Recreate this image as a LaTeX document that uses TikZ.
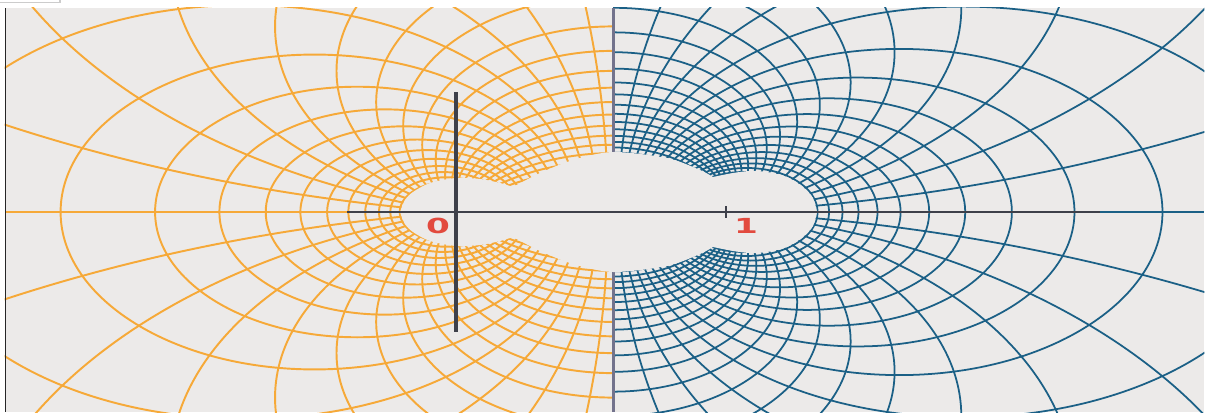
\documentclass[tikz,border=0pt]{standalone}
\usepackage{fontspec}
\newfontfamily\labelfont{DejaVu Sans}
\definecolor{bg}{RGB}{236,234,233}
\definecolor{gold}{RGB}{246,169,56}
\definecolor{sea}{RGB}{27,96,134}
\definecolor{axisgray}{RGB}{62,64,74}
\definecolor{labelred}{RGB}{226,74,62}
\begin{document}
\begin{tikzpicture}[x=0.01cm,y=-0.01cm,
    ogrid/.style={gold,line width=0.55pt},
    bgrid/.style={sea,line width=0.5pt},
    lbl/.style={text=labelred,inner sep=0pt,xscale=1.65,font=\labelfont\bfseries\fontsize{5.9}{6}\selectfont}]
  \useasboundingbox(0,0)rectangle(1206,412);
  \fill[bg](5,8)rectangle(1204,412);
  \draw[black!20,line width=0.3pt](0,2.5)--(60,2.5)--(60,0);
  \begin{scope}[shift={(456,212)},x=2.7cm,y=1.674cm]
    \begin{scope}
      \clip(-1.6704,-1.1947)rectangle(0.5815,1.2186);
      \foreach\j in{0,...,15}{
        \pgfmathsetmacro\k{exp(-0.065-0.13*\j)}
        \pgfmathsetmacro\ctr{-\k*\k*1.163/(1-\k*\k)}
        \pgfmathsetmacro\rad{\k*1.163/(1-\k*\k)}
        \draw[ogrid](\ctr,0)circle[radius=\rad];}
      \foreach\j in{1,...,25}
        \draw[ogrid](0.5815,{0.5815*cot(\j*180/26)})circle[radius={0.5815/sin(\j*180/26)}];
    \end{scope}
    \begin{scope}
      \clip(0.5815,-1.1947)rectangle(2.7704,1.2186);
      \foreach\j in{0,...,15}{
        \pgfmathsetmacro\k{exp(-0.087-0.0827*\j)}
        \pgfmathsetmacro\ctr{1+\k*\k*0.837/(1-\k*\k)}
        \pgfmathsetmacro\rad{\k*0.837/(1-\k*\k)}
        \draw[bgrid](\ctr,0)circle[radius=\rad];}
      \foreach\j in{1,...,37}
        \draw[bgrid](0.5815,{0.4185*cot(\j*180/38)})circle[radius={0.4185/sin(\j*180/38)}];
    \end{scope}
  \end{scope}
  \draw[gray!90!blue,line width=0.85pt](613,8)--(613,412);
  \fill[bg]plot[smooth]coordinates{(400,212)(405,200)(413,192)(430,183)(456,178)(480,179)(500,183)(513,187)}
    --plot[smooth]coordinates{(513,187)(540,173)(573,160)(613,152)(667,158)(700,170)(713,177)}
    --plot[smooth]coordinates{(713,177)(733,173)(750,171)(767,172)(787,177)(803,187)(813,198)(817,212)}
    --plot[smooth]coordinates{(817,212)(813,226)(803,237)(787,247)(767,252)(750,253)(733,251)(713,247)}
    --plot[smooth]coordinates{(713,247)(700,254)(667,266)(613,272)(573,264)(540,251)(513,237)}
    --plot[smooth]coordinates{(513,237)(500,241)(480,245)(456,246)(430,241)(413,232)(405,224)(400,212)}--cycle;
  \coordinate(west)at(5,212);
  \coordinate(east)at(1204,212);
  \coordinate(axl)at(347,212);
  \coordinate(axr)at(1100,212);
  \draw[gold,line width=0.3pt](west)--(axl);
  \draw[sea,line width=0.3pt](axr)--(east);
  \draw[axisgray,line width=0.4pt](axl)--(axr);
  \draw[axisgray,line width=0.9pt](456,92)--(456,332);
  \draw[axisgray,line width=0.7pt](726,206)--(726,218);
  \node[lbl](zero)at(438,226){0};
  \node[lbl](one)at(746,226){1};
  \draw[black!85,line width=0.35pt](5.5,8)--(5.5,412);
\end{tikzpicture}
\end{document}
